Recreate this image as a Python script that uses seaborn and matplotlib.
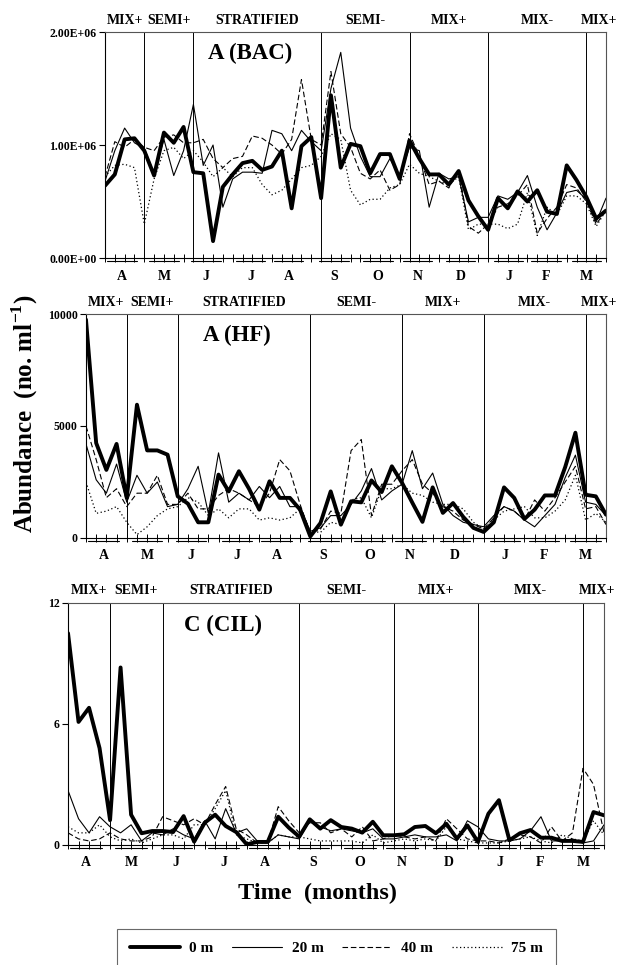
import numpy as np
import pandas as pd
import matplotlib
matplotlib.use('Agg')
import matplotlib.pyplot as plt
import matplotlib.transforms as mtransforms
from matplotlib.lines import Line2D
import seaborn as sns

# ---------------------------------------------------------------- data
weeks = np.arange(52)

month_labels = ['A', 'M', 'J', 'J', 'A', 'S', 'O', 'N', 'D', 'J', 'F', 'M']
month_pos = [1.73, 6.0, 10.3, 14.8, 18.7, 23.3, 27.8, 31.8, 36.2, 41.1, 44.9, 49.0]

phase_labels = ['MIX+', 'SEMI+', 'STRATIFIED', 'SEMI-', 'MIX+', 'MIX-', 'MIX+']
phase_edges = [0, 4, 9, 22, 31, 39, 49, 51.6]

depths = ['0 m', '20 m', '40 m', '75 m']

# A (BAC), values in 1e6 cells/ml
bac_0m = [0.64, 0.74, 1.05, 1.06, 0.95, 0.73, 1.11, 1.02, 1.16, 0.76, 0.75, 0.15, 0.63,
          0.74, 0.84, 0.86, 0.78, 0.81, 0.95, 0.44, 0.99, 1.07, 0.53, 1.44, 0.80, 1.01,
          0.99, 0.75, 0.92, 0.92, 0.70, 1.04, 0.88, 0.74, 0.74, 0.65, 0.77, 0.51, 0.37,
          0.25, 0.53, 0.44, 0.59, 0.50, 0.60, 0.41, 0.39, 0.82, 0.69, 0.54, 0.35, 0.42]
bac_20m = [0.68, 0.95, 1.15, 1.02, 0.97, 0.75, 1.05, 0.73, 0.95, 1.36, 0.82, 1.00, 0.45,
           0.70, 0.76, 0.76, 0.75, 1.13, 1.10, 0.95, 1.13, 1.03, 0.95, 1.50, 1.82, 1.15,
           0.90, 0.72, 0.72, 0.88, 0.72, 0.98, 0.95, 0.45, 0.75, 0.70, 0.72, 0.32, 0.36,
           0.36, 0.55, 0.52, 0.58, 0.73, 0.45, 0.25, 0.40, 0.58, 0.60, 0.52, 0.32, 0.53]
bac_40m = [0.72, 1.03, 0.98, 1.05, 0.98, 0.95, 1.07, 1.09, 1.02, 1.02, 1.05, 0.88, 0.80,
           0.88, 0.90, 1.08, 1.06, 1.00, 0.92, 1.05, 1.58, 1.05, 1.00, 1.65, 1.10, 0.98,
           0.75, 0.70, 0.78, 0.60, 0.65, 1.10, 0.90, 0.65, 0.68, 0.62, 0.78, 0.28, 0.22,
           0.30, 0.45, 0.48, 0.55, 0.65, 0.22, 0.35, 0.45, 0.65, 0.62, 0.50, 0.30, 0.42]
bac_75m = [0.72, 0.82, 0.83, 0.80, 0.30, 0.70, 0.95, 0.98, 0.88, 0.95, 0.85, 0.72, 0.80,
           0.72, 0.80, 0.80, 0.65, 0.56, 0.60, 0.70, 0.80, 0.82, 0.90, 1.10, 1.05, 0.60,
           0.47, 0.52, 0.52, 0.62, 0.65, 0.83, 0.75, 0.72, 0.68, 0.65, 0.72, 0.25, 0.30,
           0.30, 0.30, 0.26, 0.30, 0.58, 0.20, 0.45, 0.38, 0.55, 0.55, 0.48, 0.28, 0.42]

# A (HF), no. ml-1
hf_0m = [9750, 4240, 3040, 4200, 1790, 5950, 3910, 3910, 3720, 1860, 1530, 700, 700,
         2830, 2080, 2980, 2190, 1265, 2530, 1790, 1790, 1265, 70, 670, 2080, 595,
         1640, 1590, 2570, 2050, 3200, 2460, 1580, 720, 2260, 1120, 1560, 940, 450,
         270, 700, 2260, 1790, 850, 1265, 1900, 1900, 3170, 4700, 1930, 1860, 1040]
hf_20m = [4200, 2600, 2000, 3300, 1600, 2800, 2000, 2500, 1400, 1500, 2200, 3200, 1100,
          3800, 1600, 2000, 1700, 2300, 1800, 2300, 1400, 1400, 300, 450, 1000, 1000,
          1500, 2100, 3100, 1700, 2100, 2400, 3900, 2200, 2900, 1500, 1000, 700, 600,
          500, 1000, 1400, 1200, 800, 500, 1000, 1500, 2700, 3700, 1600, 1500, 1000]
hf_40m = [5000, 3500, 1800, 2200, 1400, 2000, 2000, 2800, 1500, 1500, 2000, 1300, 1300,
          1900, 2200, 2000, 1700, 1400, 2000, 3500, 3000, 1500, 200, 400, 1200, 1100,
          3900, 4400, 1000, 2400, 2400, 3000, 3500, 2400, 2000, 1400, 1200, 800, 600,
          400, 900, 1400, 1200, 800, 1700, 1200, 1800, 2500, 3200, 1300, 1400, 600]
hf_75m = [2500, 1100, 1200, 1400, 700, 150, 500, 1000, 1300, 1400, 1800, 1600, 1000,
          1300, 900, 1300, 1300, 800, 900, 800, 900, 1300, 300, 250, 700, 600,
          1700, 1800, 900, 2200, 2200, 2400, 2000, 1900, 1600, 1500, 1500, 1300, 700,
          400, 800, 1200, 1300, 1400, 900, 900, 1200, 1700, 2800, 800, 1100, 700]

# C (CIL), no. ml-1
cil_0m = [10.5, 6.1, 6.8, 4.8, 1.23, 8.8, 1.5, 0.58, 0.69, 0.69, 0.64, 1.43, 0.16,
          1.1, 1.5, 0.94, 0.64, 0.03, 0.15, 0.15, 1.4, 0.86, 0.41, 1.27, 0.81, 1.23,
          0.89, 0.81, 0.61, 1.15, 0.48, 0.48, 0.53, 0.89, 0.94, 0.58, 1.05, 0.31, 0.97,
          0.15, 1.55, 2.22, 0.23, 0.58, 0.74, 0.36, 0.36, 0.2, 0.2, 0.15, 1.63, 1.47]
cil_20m = [2.7, 1.3, 0.6, 1.4, 0.9, 0.6, 1.0, 0.2, 0.6, 0.5, 0.8, 0.5, 0.3,
           1.2, 0.3, 1.8, 0.6, 0.8, 0.2, 0.1, 0.5, 0.4, 0.3, 1.2, 0.9, 0.7,
           0.8, 0.7, 0.6, 0.8, 0.3, 0.3, 0.4, 0.5, 0.4, 0.4, 0.5, 0.2, 1.2,
           0.9, 0.3, 0.2, 0.2, 0.3, 0.7, 1.4, 0.2, 0.2, 0.3, 0.1, 0.2, 1.0]
cil_40m = [0.6, 0.3, 0.2, 0.3, 0.6, 0.3, 0.2, 0.2, 0.4, 1.4, 1.2, 1.0, 1.3,
           1.0, 2.0, 2.9, 0.8, 0.5, 0.1, 0.1, 1.9, 1.2, 0.6, 1.1, 1.1, 0.6,
           0.8, 0.4, 0.9, 0.2, 0.3, 0.5, 0.4, 0.3, 0.4, 0.2, 1.3, 0.8, 0.3,
           0.2, 0.2, 0.1, 0.3, 0.5, 0.4, 0.1, 0.9, 0.2, 0.6, 3.8, 3.0, 0.6]
cil_75m = [0.9, 0.6, 0.6, 1.0, 0.4, 0.2, 0.3, 0.1, 0.3, 0.5, 0.5, 0.3, 1.0,
           1.0, 1.8, 2.7, 0.5, 0.3, 0.1, 0.1, 0.5, 0.4, 0.4, 0.3, 0.2, 0.2,
           0.2, 0.2, 0.1, 0.5, 0.1, 0.2, 0.3, 0.2, 0.3, 0.2, 0.9, 0.3, 0.2,
           0.1, 0.1, 0.1, 0.2, 0.3, 0.4, 0.2, 0.1, 0.5, 0.3, 0.2, 1.2, 0.5]

# ---------------------------------------------------------------- style
sns.set_style('white')
plt.rcParams['font.family'] = ['Liberation Serif', 'DejaVu Serif']
plt.rcParams['mathtext.fontset'] = 'custom'
plt.rcParams['mathtext.rm'] = 'Liberation Serif:bold'
plt.rcParams['mathtext.bf'] = 'Liberation Serif:bold'
for chave in ['text.color', 'axes.labelcolor', 'xtick.color', 'ytick.color']:
    plt.rcParams[chave] = 'black'

line_styles = {
    '0 m': dict(lw=2.8, ls='-'),
    '20 m': dict(lw=0.8, ls='-'),
    '40 m': dict(lw=0.8, ls=(0, (5, 2.5))),
    '75 m': dict(lw=0.9, ls=(0, (1, 2))),
}

fig = plt.figure(figsize=(6.19, 9.65), dpi=100)

paineis = [
    dict(rect=[0.1696, 0.7326, 0.8094, 0.2342], series=[bac_0m, bac_20m, bac_40m, bac_75m],
         escala=1e6, ylim=2e6, yticks=[0, 1e6, 2e6], fmt=lambda v: f'{v:.2E}', titulo='A (BAC)'),
    dict(rect=[0.1389, 0.4425, 0.8401, 0.2321], series=[hf_0m, hf_20m, hf_40m, hf_75m],
         escala=1, ylim=10000, yticks=[0, 5000, 10000], fmt=lambda v: f'{v:.0f}', titulo='A (HF)'),
    dict(rect=[0.1099, 0.1244, 0.8659, 0.2508], series=[cil_0m, cil_20m, cil_40m, cil_75m],
         escala=1, ylim=12, yticks=[0, 6, 12], fmt=lambda v: f'{v:.0f}', titulo='C (CIL)'),
]

for p in paineis:
    ax = fig.add_axes(p['rect'])
    for nome, vals in zip(depths, p['series']):
        df = pd.DataFrame({'semana': weeks, 'valor': np.array(vals) * p['escala']})
        sns.lineplot(data=df, x='semana', y='valor', ax=ax, color='black',
                     linewidth=line_styles[nome]['lw'], linestyle=line_styles[nome]['ls'],
                     legend=False)

    ax.set_xlim(0, 51)
    ax.set_ylim(0, p['ylim'])
    ax.set_xlabel('')
    ax.set_ylabel('')

    # eixo y
    ax.set_yticks(p['yticks'])
    ax.set_yticklabels([p['fmt'](v) for v in p['yticks']], fontsize=8.5, fontweight='bold')
    ax.tick_params(axis='y', direction='out', length=4, width=0.8, pad=2, left=True)

    # ticks semanais
    ax.set_xticks(weeks)
    ax.set_xticklabels([])
    ax.tick_params(axis='x', direction='inout', length=6, width=0.7, bottom=True)

    for s in ax.spines.values():
        s.set_color('black')
        s.set_linewidth(0.8)
    ax.spines['top'].set_color('#555555')
    ax.spines['right'].set_color('#555555')

    # fronteiras de fase
    for b in phase_edges[1:-1]:
        ax.axvline(b, color='black', lw=0.7)

    altura_px = p['rect'][3] * 965
    trans = mtransforms.blended_transform_factory(ax.transData, ax.transAxes)

    # rótulos de fase
    for lab, a, b in zip(phase_labels, phase_edges[:-1], phase_edges[1:]):
        ax.text((a + b) / 2, 1 + 12 / altura_px, lab, transform=trans, ha='center', va='center',
                fontsize=10, fontweight='bold', clip_on=False)

    # meses + sublinhado
    for lab, pos in zip(month_labels, month_pos):
        ax.text(pos, -18 / altura_px, lab, transform=trans, ha='center', va='center',
                fontsize=10, fontweight='bold', clip_on=False)
        ax.plot([pos - 1.5, pos + 1.5], [-3 / altura_px] * 2, transform=trans,
                color='black', lw=0.8, clip_on=False)

    ax.text(0.29, 0.905, p['titulo'], transform=ax.transAxes, ha='center', va='center',
            fontsize=16.5, fontweight='bold')

fig.text(0.04, 1 - 414 / 965, r'Abundance  (no. ml$^{\mathbf{-1}}$)', rotation=90,
         ha='center', va='center', fontsize=18, fontweight='bold')
fig.text(318 / 619, 1 - 893 / 965, 'Time  (months)', ha='center', va='center',
         fontsize=17.5, fontweight='bold')

handles = [Line2D([0], [0], color='black', linewidth=line_styles[d]['lw'],
                  linestyle=line_styles[d]['ls']) for d in depths]
leg = fig.legend(handles, depths, loc='upper center', bbox_to_anchor=(336.5 / 619, 1 - 921 / 965),
                 ncol=4, frameon=True, fancybox=False, edgecolor='#444444', handlelength=3.3,
                 columnspacing=1.2, handletextpad=0.6, borderpad=0.85,
                 prop={'family': 'Liberation Serif', 'weight': 'bold', 'size': 11})
leg.get_frame().set_linewidth(0.8)

fig.savefig('out.png', dpi=100, facecolor='white')
